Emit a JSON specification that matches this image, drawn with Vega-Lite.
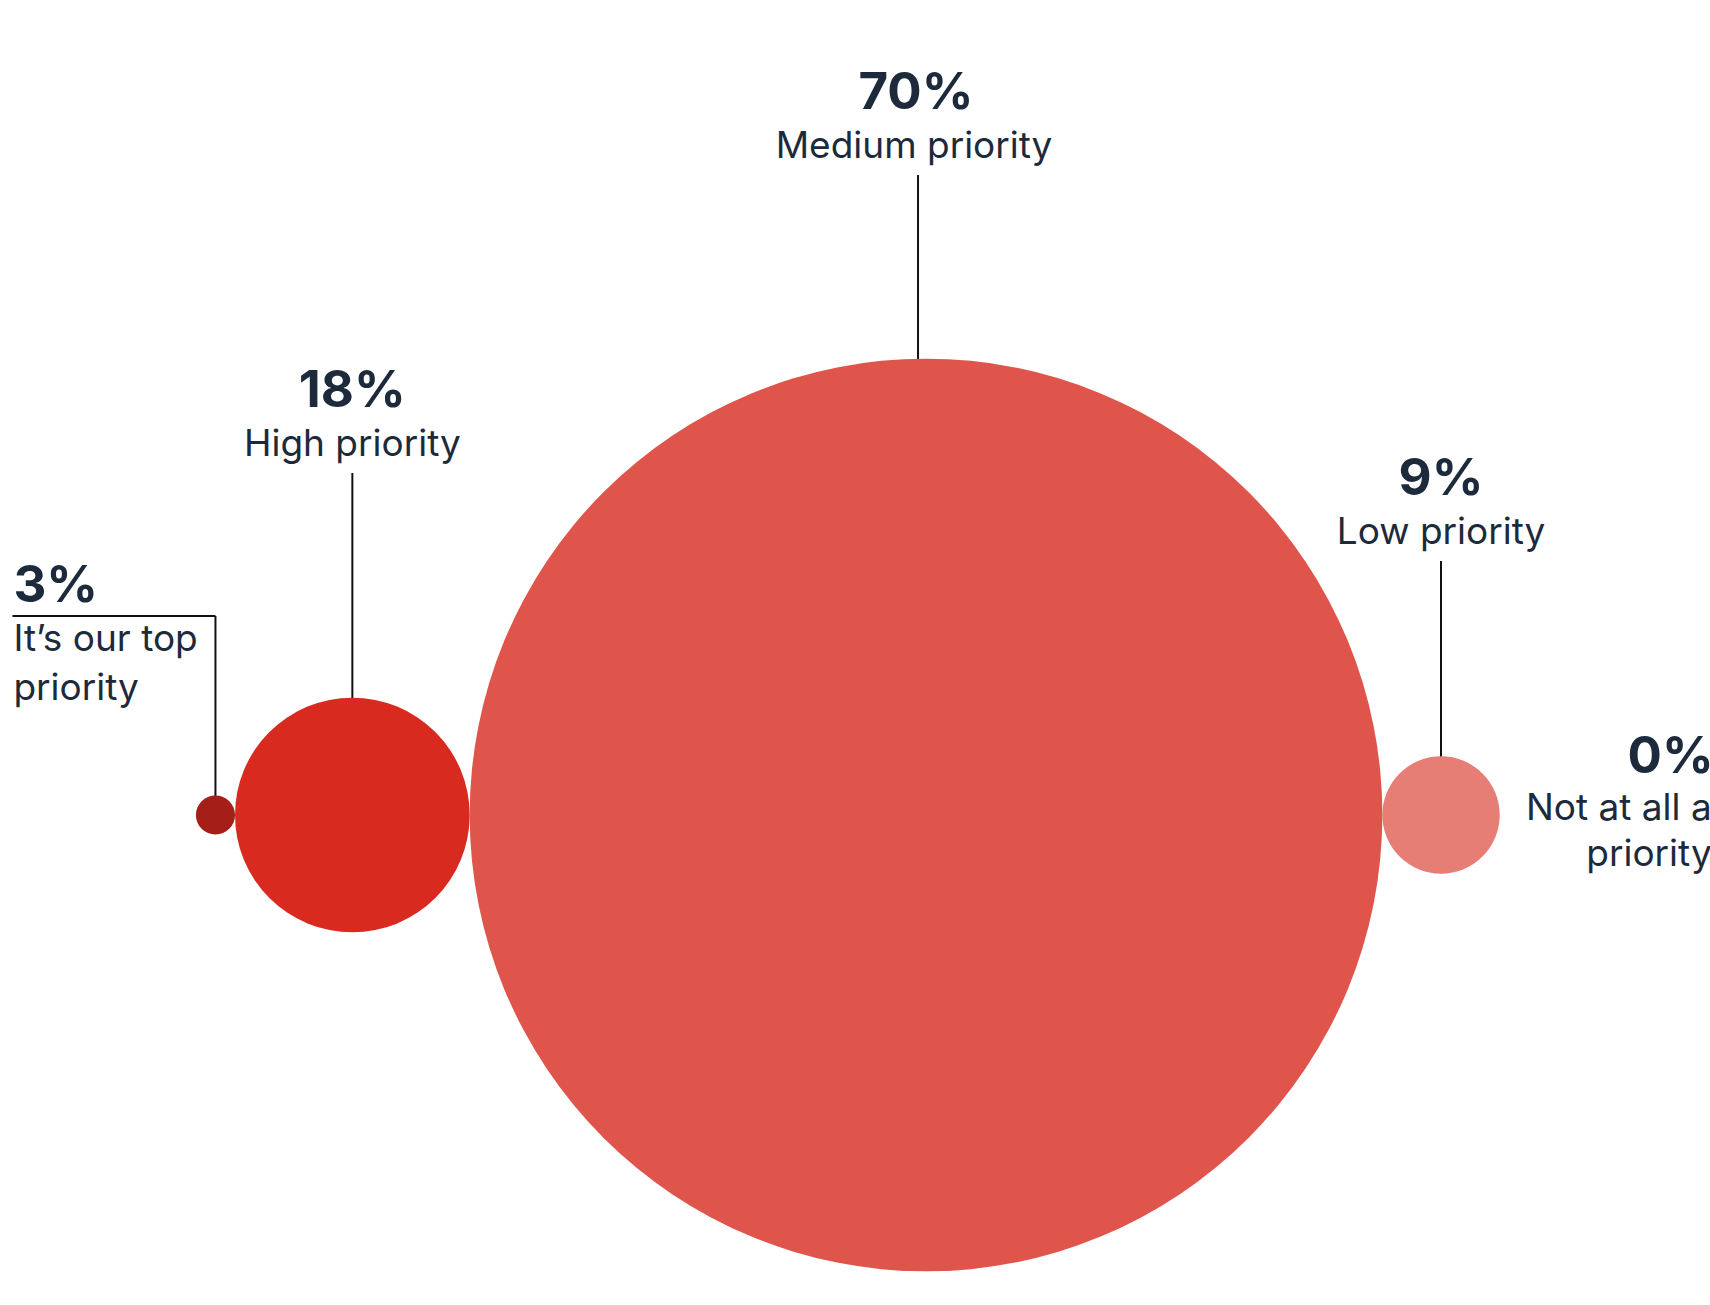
{
  "$schema": "https://vega.github.io/schema/vega-lite/v6.json",
  "width": 1710,
  "height": 1305,
  "autosize": {"type": "none"},
  "padding": 0,
  "background": "#ffffff",
  "config": {
    "view": {"stroke": null},
    "text": {"font": "Inter", "color": "#1d2a3b"}
  },
  "data": {
    "values": [
      {"answer": "It’s our top priority", "value": 3},
      {"answer": "High priority", "value": 18},
      {"answer": "Medium priority", "value": 70},
      {"answer": "Low priority", "value": 9},
      {"answer": "Not at all a priority", "value": 0}
    ]
  },
  "transform": [
    {"window": [{"op": "sum", "field": "value", "as": "cumulative"}], "frame": [null, 0]},
    {"calculate": "2 * datum.cumulative - datum.value", "as": "center"},
    {"calculate": "datum.value + '%'", "as": "pct"},
    {"calculate": "replace(datum.answer, ' priority', '\\npriority')", "as": "wrapped"}
  ],
  "encoding": {
    "x": {
      "field": "center",
      "type": "quantitative",
      "scale": {"domain": [-30.05, 232.26], "nice": false, "zero": false},
      "axis": null
    },
    "y": {
      "field": "value",
      "type": "quantitative",
      "scale": {"domain": [0, 3, 9, 18, 70], "range": [773, 602, 495, 407, 109], "nice": false, "zero": false},
      "axis": null
    }
  },
  "layer": [
    {
      "transform": [{"filter": "datum.value >= 9 && datum.value < 50"}],
      "mark": {"type": "rule", "color": "#111111", "strokeWidth": 2, "yOffset": 66, "y2Offset": 42},
      "encoding": {"y2": {"datum": 0}}
    },
    {
      "transform": [{"filter": "datum.value >= 50"}],
      "mark": {"type": "rule", "color": "#111111", "strokeWidth": 2, "yOffset": 66, "y2Offset": 42, "xOffset": -8},
      "encoding": {"y2": {"datum": 0}}
    },
    {
      "transform": [{"filter": "datum.value == 3"}],
      "mark": {"type": "rule", "color": "#111111", "strokeWidth": 2, "yOffset": 14, "y2Offset": 42},
      "encoding": {"y2": {"datum": 0}}
    },
    {
      "transform": [{"filter": "datum.value == 3"}],
      "mark": {"type": "rule", "color": "#111111", "strokeWidth": 2, "yOffset": 14, "x2Offset": -203},
      "encoding": {"x2": {"field": "center"}}
    },
    {
      "mark": {"type": "circle", "opacity": 1, "strokeWidth": 0, "yOffset": 42},
      "encoding": {
        "y": {
          "datum": 0,
          "type": "quantitative",
          "scale": {"domain": [0, 3, 9, 18, 70], "range": [773, 602, 495, 407, 109], "nice": false, "zero": false},
          "axis": null
        },
        "size": {
          "field": "value",
          "type": "quantitative",
          "scale": {"type": "pow", "exponent": 2, "domain": [0, 70], "range": [0, 833000]},
          "legend": null
        },
        "color": {
          "field": "answer",
          "type": "nominal",
          "scale": {
            "domain": ["It’s our top priority", "High priority", "Medium priority", "Low priority", "Not at all a priority"],
            "range": ["#a61e18", "#d92a1f", "#e0554b", "#e77e76", "#f2b3ad"]
          },
          "legend": null
        }
      }
    },
    {
      "transform": [{"filter": "datum.value >= 9 && datum.value < 50"}],
      "mark": {"type": "text", "fontSize": 51, "fontWeight": "bold", "align": "center", "baseline": "alphabetic"},
      "encoding": {"text": {"field": "pct"}}
    },
    {
      "transform": [{"filter": "datum.value >= 9 && datum.value < 50"}],
      "mark": {"type": "text", "fontSize": 37, "align": "center", "baseline": "alphabetic", "dy": 49},
      "encoding": {"text": {"field": "answer"}}
    },
    {
      "transform": [{"filter": "datum.value >= 50"}],
      "mark": {"type": "text", "fontSize": 51, "fontWeight": "bold", "align": "center", "baseline": "alphabetic", "dx": -10},
      "encoding": {"text": {"field": "pct"}}
    },
    {
      "transform": [{"filter": "datum.value >= 50"}],
      "mark": {"type": "text", "fontSize": 37, "align": "center", "baseline": "alphabetic", "dx": -12, "dy": 49},
      "encoding": {"text": {"field": "answer"}}
    },
    {
      "transform": [{"filter": "datum.value == 3"}],
      "mark": {"type": "text", "fontSize": 51, "fontWeight": "bold", "align": "left", "baseline": "alphabetic", "dx": -202},
      "encoding": {"text": {"field": "pct"}}
    },
    {
      "transform": [{"filter": "datum.value == 3"}],
      "mark": {"type": "text", "fontSize": 37, "align": "left", "baseline": "alphabetic", "dx": -202, "dy": 49, "lineBreak": "\n", "lineHeight": 49},
      "encoding": {"text": {"field": "wrapped"}}
    },
    {
      "transform": [{"filter": "datum.value == 0"}],
      "mark": {"type": "text", "fontSize": 51, "fontWeight": "bold", "align": "right", "baseline": "alphabetic", "dx": 214},
      "encoding": {"text": {"field": "pct"}}
    },
    {
      "transform": [{"filter": "datum.value == 0"}],
      "mark": {"type": "text", "fontSize": 37, "align": "right", "baseline": "alphabetic", "dx": 212, "dy": 47, "lineBreak": "\n", "lineHeight": 46},
      "encoding": {"text": {"field": "wrapped"}}
    }
  ]
}
